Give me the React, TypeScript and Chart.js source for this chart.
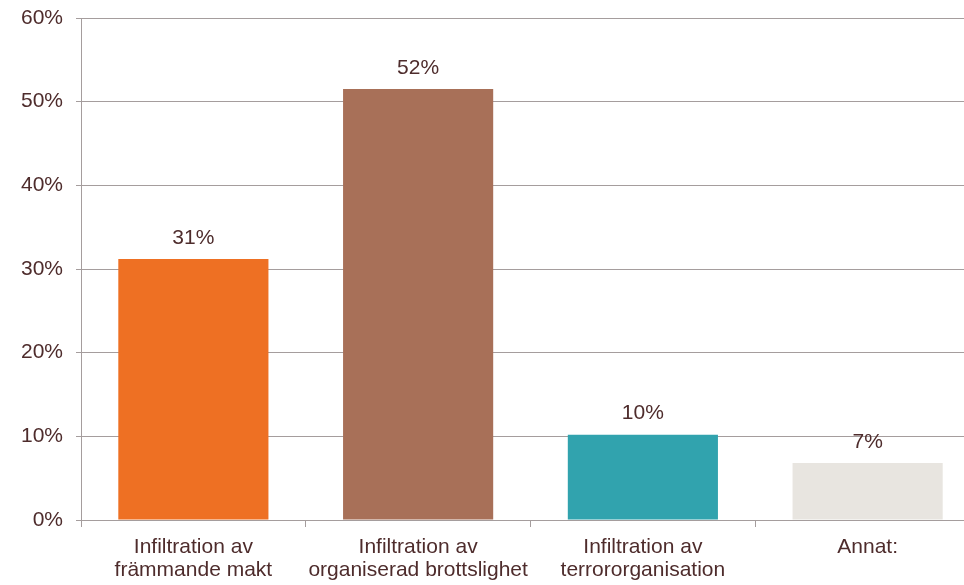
import React, { useEffect, useRef } from "react";
import { Chart, registerables } from "chart.js";

Chart.register(...registerables);

const categories: string[][] = [
  ["Infiltration av", "främmande makt"],
  ["Infiltration av", "organiserad brottslighet"],
  ["Infiltration av", "terrororganisation"],
  ["Annat:"],
];
const values: number[] = [31.2, 51.5, 10.2, 6.8];
const valueLabels: string[] = ["31%", "52%", "10%", "7%"];
const barColors: string[] = ["#EE7023", "#A87058", "#31A3AE", "#E8E5E0"];
const yTicks: number[] = [0, 10, 20, 30, 40, 50, 60];

const TEXT = "#4e2c2c";
const GRID = "#a59d9d";
const FONT = "'Liberation Sans', Arial, sans-serif";

const dataLabelPlugin = {
  id: "dataLabels",
  afterDatasetsDraw(chart: any) {
    const ctx = chart.ctx;
    const meta = chart.getDatasetMeta(0);
    ctx.save();
    ctx.fillStyle = TEXT;
    ctx.font = `21px ${FONT}`;
    ctx.textAlign = "center";
    ctx.textBaseline = "middle";
    meta.data.forEach((bar: any, i: number) => {
      ctx.fillText(valueLabels[i], bar.x, bar.y - 21);
    });
    ctx.restore();
  },
};

export default function App() {
  const ref = useRef<HTMLCanvasElement>(null);
  useEffect(() => {
    document.body.style.overflow = "hidden";
    const chart = new Chart(ref.current!, {
      type: "bar",
      data: {
        labels: categories,
        datasets: [
          {
            data: values,
            backgroundColor: barColors,
            borderWidth: 0,
            barPercentage: 1,
            categoryPercentage: 0.668,
          },
        ],
      },
      options: {
        animation: false,
        responsive: true,
        maintainAspectRatio: false,
        layout: { padding: { top: 18, right: 0, bottom: 0, left: 0 } },
        plugins: { legend: { display: false }, tooltip: { enabled: false } },
        scales: {
          x: {
            grid: {
              offset: true,
              drawOnChartArea: false,
              color: GRID,
              tickLength: 7,
            },
            border: { color: GRID, width: 1 },
            ticks: {
              color: TEXT,
              font: { family: FONT, size: 21, lineHeight: 1.1 },
              padding: 9,
              maxRotation: 0,
              autoSkip: false,
            },
            afterFit: (s: any) => {
              s.height = 65;
              s.paddingLeft = 0;
              s.paddingRight = 0;
            },
          },
          y: {
            min: 0,
            max: 60,
            afterBuildTicks: (s: any) => {
              s.ticks = yTicks.map((v) => ({ value: v }));
            },
            grid: { color: GRID, tickLength: 5, lineWidth: 1 },
            border: { color: GRID, width: 1 },
            ticks: {
              color: TEXT,
              font: { family: FONT, size: 21 },
              padding: 13,
              callback: (v: any) => `${v}%`,
            },
            afterFit: (s: any) => {
              s.width = 81;
              s.paddingTop = 0;
              s.paddingBottom = 0;
            },
          },
        },
      },
      plugins: [dataLabelPlugin],
    });
    return () => chart.destroy();
  }, []);
  return (
    <div style={{ position: "fixed", left: 0, top: 0, width: 980, height: 585 }}>
      <canvas ref={ref} />
    </div>
  );
}
